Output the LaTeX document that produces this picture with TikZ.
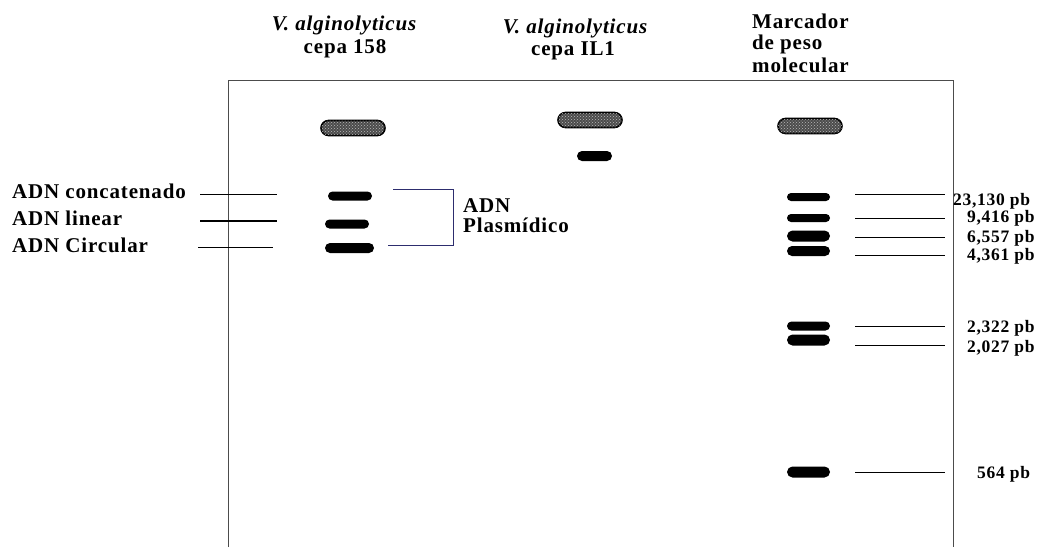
\documentclass[tikz,border=0pt]{standalone}
\usepackage{fontspec}
\setmainfont{Liberation Serif}[LetterSpace=4]
\usetikzlibrary{shapes.misc,patterns}
\definecolor{brk}{RGB}{45,45,110}

\begin{document}
\begin{tikzpicture}[x=1pt,y=-1pt,
        band/.style={rounded rectangle,fill=black,inner sep=0pt,minimum width=44pt,minimum height=9pt},
        well/.style={rounded rectangle,draw=black,line width=1.6pt,fill=black!70,inner sep=0pt,
                minimum width=64pt,minimum height=15pt,postaction={pattern=crosshatch dots,pattern color=gray!55}},
        lbl/.style={font=\fontsize{21}{24}\selectfont\bfseries,inner sep=0pt,anchor=base west},
        head/.style={font=\fontsize{21}{24}\selectfont\bfseries,inner sep=0pt,anchor=base},
        size/.style={font=\fontsize{17.5}{20}\selectfont\bfseries,inner sep=0pt,anchor=base west},
        gel/.style={draw=black!70,line width=0.8pt}]

    \useasboundingbox (0,0) rectangle (1039,547);

    % gel
    \draw[gel] (228,547) -- (228,80) -- (953,80) -- (953,547);

    % headers
    \node[head] (h1a) at (344,30) {\itshape V. alginolyticus};
    \node[head] (h1b) at (345,53) {cepa 158};
    \node[head] (h2a) at (575,33) {\itshape V. alginolyticus};
    \node[head] (h2b) at (573,55) {cepa IL1};
    \node[lbl] (h3a) at (752,28) {Marcador};
    \node[lbl] (h3b) at (752,49) {de peso};
    \node[lbl] (h3c) at (752,72) {molecular};

    % wells
    \node[well] (w1) at (353,128) {};
    \node[well] (w2) at (590,120) {};
    \node[well] (w3) at (810,126) {};

    % lane 1 and lane 2
    \node[band] (concat) at (350,196) {};
    \node[band] (linear) at (347,224) {};
    \node[band,minimum width=49pt,minimum height=10pt] (circ) at (349.5,248) {};
    \node[band,minimum width=35pt,minimum height=10pt] (b2) at (594.5,156) {};

    \node[lbl] (lconcat) at (12,198) {ADN concatenado};
    \node[lbl] (llinear) at (12,225) {ADN linear};
    \node[lbl] (lcirc) at (12,252) {ADN Circular};
    \draw[line width=0.6pt] (200,194) -- (277,194);
    \draw[line width=1.6pt] (200,221) -- (277,221);
    \draw[line width=0.6pt] (198,247) -- (273,247);

    % plasmid bracket
    \draw[brk,line width=0.8pt] (393,189) -- (453,189) -- (453,245) -- (388,245);
    \node[lbl] (pa) at (463,212) {ADN};
    \node[lbl] (pb) at (463,232) {Plasmídico};

    % marker
    \foreach \y/\h/\n in {197/8/1,218/8/2,236/11/3,251/10/4,326/9/5,340/11/6,472/11/7}
        \node[band,minimum width=43pt,minimum height=\h pt] (m\n) at (808.5,\y) {};
    \foreach \y in {194,218,237,255,326,345,472}
        \draw[line width=1pt] (855,\y) -- (945,\y);
    \foreach \x/\y/\t in {{953/205/23,130 pb},{967/222/9,416 pb},{967/242/6,557 pb},{967/260/4,361 pb},
            {967/332/2,322 pb},{967/352/2,027 pb},{977/478/564 pb}}
        \node[size] at (\x,\y) {\t};
\end{tikzpicture}
\end{document}
